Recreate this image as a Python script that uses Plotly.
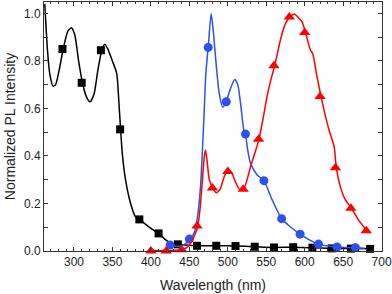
import plotly.graph_objects as go

# Black (absorption) - curve and markers
blk_line_x = [262, 265.5, 268.4, 272.7, 276, 280, 286, 292, 296.6, 301, 306, 311, 316, 320.8, 326, 331, 336, 340, 344, 349.9, 355.5, 358.5, 360.6, 362.8, 367, 373.6, 380, 385.7, 392, 400, 410, 418, 425, 435, 460, 485, 510, 535, 560, 585, 610, 635, 660, 687]
blk_line_y = [1.04, 0.846, 0.748, 0.694, 0.70, 0.75, 0.85, 0.925, 0.94, 0.91, 0.80, 0.708, 0.65, 0.628, 0.66, 0.76, 0.843, 0.87, 0.85, 0.80, 0.748, 0.62, 0.512, 0.411, 0.30, 0.20, 0.144, 0.133, 0.115, 0.095, 0.074, 0.05, 0.035, 0.028, 0.022, 0.022, 0.021, 0.018, 0.015, 0.016, 0.014, 0.011, 0.010, 0.009]
blk_mark_x = [285, 310, 335, 360, 385, 410, 435, 460, 485, 510, 535, 560, 585, 610, 635, 660, 685]
blk_mark_y = [0.85, 0.708, 0.845, 0.512, 0.133, 0.074, 0.028, 0.022, 0.022, 0.021, 0.018, 0.015, 0.016, 0.014, 0.011, 0.010, 0.009]

# Blue PL
blu_line_x = [425, 432, 440, 447, 451, 456, 460, 464.5, 468.8, 471.5, 474.5, 478.4, 481, 485, 489, 493.5, 498, 503, 509, 513, 517, 520.8, 523, 525.2, 529.5, 538.2, 547, 557.7, 570, 582, 594, 606, 618, 630, 642, 654, 666, 678]
blu_line_y = [0.025, 0.02, 0.022, 0.035, 0.05, 0.074, 0.13, 0.27, 0.55, 0.75, 0.857, 1.0, 0.93, 0.78, 0.66, 0.605, 0.628, 0.68, 0.722, 0.70, 0.61, 0.509, 0.492, 0.439, 0.369, 0.32, 0.296, 0.215, 0.136, 0.10, 0.071, 0.047, 0.029, 0.021, 0.017, 0.015, 0.014, 0.012]
blu_mark_x = [425, 450, 474.5, 498, 523, 547, 570, 594, 618, 642, 666]
blu_mark_y = [0.025, 0.05, 0.857, 0.628, 0.492, 0.296, 0.136, 0.071, 0.029, 0.017, 0.014]

# Red PL
red_line_x = [397, 400, 410, 420, 430, 440, 447, 453, 458, 461, 464, 467, 469.5, 471, 473, 476, 480.5, 485, 490, 495, 500, 505, 510, 515, 520, 525, 530, 535, 540.5, 546, 551, 556, 561, 568.4, 575, 581, 586.6, 591, 596.5, 601, 607.4, 610.5, 616, 621.3, 626, 631.6, 638.3, 641.2, 646.4, 652.9, 660, 670, 681]
red_line_y = [0.003, 0.003, 0.002, 0.002, 0.003, 0.005, 0.015, 0.04, 0.075, 0.105, 0.18, 0.30, 0.40, 0.425, 0.38, 0.30, 0.265, 0.245, 0.26, 0.31, 0.34, 0.33, 0.29, 0.26, 0.255, 0.30, 0.36, 0.41, 0.47, 0.56, 0.65, 0.72, 0.78, 0.888, 0.958, 0.985, 0.997, 0.985, 0.965, 0.92, 0.846, 0.83, 0.733, 0.649, 0.58, 0.509, 0.439, 0.348, 0.27, 0.215, 0.184, 0.13, 0.085]
red_mark_x = [400, 420, 440, 460, 480, 500, 520, 540, 560, 580, 600, 620, 640, 660, 680]
red_mark_y = [0.0, 0.0, 0.005, 0.105, 0.265, 0.335, 0.26, 0.47, 0.78, 0.985, 0.92, 0.65, 0.35, 0.18, 0.085]

BLACK = "#000000"
BLUE = "#2d50f0"
RED = "#ff0000"

fig = go.Figure()
for lx, ly, mx, my, col, sym, sz in [
    (blk_line_x, blk_line_y, blk_mark_x, blk_mark_y, BLACK, "square", 8),
    (blu_line_x, blu_line_y, blu_mark_x, blu_mark_y, BLUE, "circle", 9),
    (red_line_x, red_line_y, red_mark_x, red_mark_y, RED, "triangle-up", 10),
]:
    fig.add_trace(go.Scatter(x=lx, y=ly, mode="lines",
                             line=dict(color=col, width=1.5, shape="spline", smoothing=0.6),
                             showlegend=False, hoverinfo="skip"))
    fig.add_trace(go.Scatter(x=mx, y=my, mode="markers",
                             marker=dict(color=col, symbol=sym, size=sz, line=dict(width=0)),
                             showlegend=False, cliponaxis=False))

axis_common = dict(showline=True, linecolor="#333333", linewidth=1, mirror="ticks",
                   ticks="inside", ticklen=4, tickcolor="#333333", showgrid=False, zeroline=False,
                   automargin=False,
                   tickfont=dict(family="Liberation Sans, Arial", size=12, color="#222222"))

fig.update_layout(
    width=392, height=294,
    margin=dict(l=44, r=10, t=2, b=43),
    plot_bgcolor="white", paper_bgcolor="white",
    xaxis=dict(range=[261, 700.5], tickvals=[300, 350, 400, 450, 500, 550, 600, 650, 700],
               minor=dict(dtick=10, tick0=0, ticks="inside", ticklen=2, tickcolor="#333333"),
               title=dict(text="Wavelength (nm)", standoff=11,
                          font=dict(family="Liberation Sans, Arial", size=14, color="#222222")),
               **axis_common),
    yaxis=dict(range=[0, 1.048], tickvals=[0, 0.2, 0.4, 0.6, 0.8, 1.0],
               ticktext=["0.0", "0.2", "0.4", "0.6", "0.8", "1.0"],
               minor=dict(dtick=0.1, tick0=0, ticks="inside", ticklen=4, tickcolor="#333333"),
               title=dict(text="Normalized PL Intensity", standoff=5,
                          font=dict(family="Liberation Sans, Arial", size=14, color="#222222")),
               **axis_common),
)

fig.write_html("out.html", config={"displayModeBar": False, "staticPlot": True},
               post_script="document.body.style.margin='0';document.body.style.overflow='hidden';")
